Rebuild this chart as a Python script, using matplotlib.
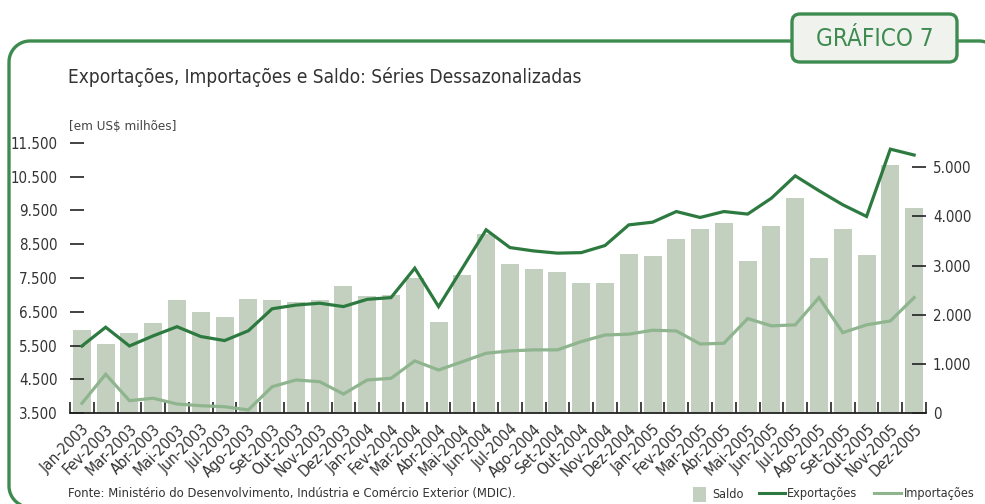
import matplotlib
matplotlib.use("Agg")
import matplotlib.pyplot as plt
import matplotlib.font_manager as fm
import numpy as np
from matplotlib.patches import FancyBboxPatch, Rectangle, Polygon
from matplotlib.lines import Line2D

months = ["Jan", "Fev", "Mar", "Abr", "Mai", "Jun", "Jul", "Ago", "Set", "Out", "Nov", "Dez"]
categories = [f"{m}-{y}" for y in (2003, 2004, 2005) for m in months]

exportacoes = [5490, 6045, 5490, 5790, 6060, 5770, 5650, 5940, 6590, 6700,
               6755, 6655, 6870, 6920, 7790, 6655, 7790, 8925, 8400, 8300,
               8235, 8250, 8460, 9070, 9150, 9465, 9290, 9465, 9390, 9860,
               10520, 10080, 9665, 9320, 11310, 11135]
importacoes = [3795, 4655, 3875, 3945, 3775, 3725, 3695, 3600, 4285, 4485,
               4435, 4070, 4485, 4535, 5050, 4780, 5025, 5275, 5345, 5375,
               5375, 5620, 5815, 5840, 5955, 5935, 5550, 5570, 6300, 6085,
               6115, 6920, 5885, 6115, 6230, 6920]
saldo = [1690, 1405, 1630, 1830, 2300, 2055, 1955, 2320, 2300, 2265,
         2300, 2580, 2380, 2400, 2750, 1850, 2805, 3650, 3040, 2925,
         2865, 2645, 2645, 3230, 3190, 3535, 3740, 3860, 3090, 3800,
         4385, 3150, 3740, 3210, 5055, 4165]

left_ticks = [3500, 4500, 5500, 6500, 7500, 8500, 9500, 10500, 11500]
right_ticks = [0, 1000, 2000, 3000, 4000, 5000]


def fmt(v):
    return f"{v:,}".replace(",", ".")


# pick a condensed sans font if one is installed
def pick_font():
    fl = fm.fontManager.ttflist
    for f in fl:
        if f.name == "Liberation Sans Narrow" and f.style == "normal" and f.weight in (400, "normal"):
            return fm.FontProperties(fname=f.fname)
    for f in fl:
        if f.name == "DejaVu Sans" and str(f.stretch) in ("condensed", "semi-condensed") \
                and f.style == "normal" and f.weight in (400, "normal", "book"):
            return fm.FontProperties(fname=f.fname)
    for f in fl:
        if ("Condensed" in f.name or "Narrow" in f.name) and f.style == "normal":
            return fm.FontProperties(fname=f.fname)
    return fm.FontProperties(family="DejaVu Sans")


FP = pick_font()

W, H = 985, 504
fig = plt.figure(figsize=(W / 100, H / 100), dpi=100)
fig.patch.set_facecolor("white")
renderer = fig.canvas.get_renderer()

GREEN = "#3e8b50"
DARK = "#2c7a3f"
LIGHT = "#8fb58f"
BAR = "#c3cfbf"
TXT = "#333333"


def size_for(s, target_w):
    t = fig.text(0, 0, s, fontproperties=FP, fontsize=10)
    w = t.get_window_extent(renderer).width
    t.remove()
    return 10 * target_w / w


def ftext(axes, x, y, s, target_w=None, size=None, **kw):
    sz = size if size is not None else size_for(s, target_w)
    return axes.text(x, y, s, fontproperties=FP, fontsize=sz, **kw)


# overlay for frame & annotations (pixel coords, y downwards)
ov = fig.add_axes([0, 0, 1, 1])
ov.set_xlim(0, W)
ov.set_ylim(H, 0)
ov.axis("off")


def rounded_frame(xl, yt, xr, yb, r):
    t = np.linspace(0, np.pi / 2, 20)
    pts = []
    pts += list(zip(xl + r - r * np.cos(t), yt + r - r * np.sin(t)))
    pts += list(zip(xr - r + r * np.sin(t), yt + r - r * np.cos(t)))
    pts += list(zip(xr - r + r * np.cos(t), yb - r + r * np.sin(t)))
    pts += list(zip(xl + r - r * np.sin(t), yb - r + r * np.cos(t)))
    return np.array(pts)


ov.add_patch(Polygon(rounded_frame(9, 41, 1000, 507, 21), closed=True, fill=False,
                     edgecolor=GREEN, linewidth=2.4, joinstyle="round"))
box = FancyBboxPatch((792, 14), 165, 48, boxstyle="round,pad=0,rounding_size=8",
                     facecolor="#f0f2ee", edgecolor=GREEN, linewidth=2.4, zorder=3)
ov.add_patch(box)
ftext(ov, 874.5, 39, "GRÁFICO 7", 118, color=GREEN, ha="center", va="center", zorder=4)
ftext(ov, 68, 77, "Exportações, Importações e Saldo: Séries Dessazonalizadas", 514,
      color=TXT, ha="left", va="center")
ftext(ov, 69, 127, "[em US$ milhões]", 108, color="#444444", ha="left", va="center")
ftext(ov, 68, 494, "Fonte: Ministério do Desenvolvimento, Indústria e Comércio Exterior (MDIC).", 447,
      color=TXT, ha="left", va="center")
# legend
lsz = size_for("Exportações", 70)
ov.add_patch(Rectangle((693, 487), 13, 15, facecolor=BAR, edgecolor="none"))
ftext(ov, 712, 494, "Saldo", size=lsz, color=TXT, ha="left", va="center")
ov.add_line(Line2D([759, 785], [493, 493], color=DARK, linewidth=2.2))
ftext(ov, 787, 494, "Exportações", size=lsz, color=TXT, ha="left", va="center")
ov.add_line(Line2D([874, 901], [493, 493], color=LIGHT, linewidth=2.2))
ftext(ov, 904, 494, "Importações", size=lsz, color=TXT, ha="left", va="center")

# main axes
x0, x1, ybot, ytop = 70, 926, 413.3, 142.7
ax = fig.add_axes([x0 / W, 1 - ybot / H, (x1 - x0) / W, (ybot - ytop) / H])
ax.set_facecolor("none")
ax2 = ax.twinx()

x = np.arange(len(categories))
ax.set_zorder(2)
ax2.set_zorder(1)
ax2.bar(x, saldo, width=0.76, color=BAR, edgecolor="none")
ax.plot(x, importacoes, color=LIGHT, linewidth=2.3, solid_joinstyle="miter")
ax.plot(x, exportacoes, color=DARK, linewidth=2.3, solid_joinstyle="miter")

ax.set_xlim(-0.5, len(categories) - 0.5)
ax.set_ylim(3500, 11500)
ax2.set_ylim(0, 5500)

for a in (ax, ax2):
    for s in ("top", "left", "right"):
        a.spines[s].set_visible(False)
ax2.spines["bottom"].set_visible(False)
ax.spines["bottom"].set_color("#222222")
ax.spines["bottom"].set_linewidth(1.3)

ysz = size_for("11.500", 47.5)
xsz = size_for("Jan-2003", 62)

ax.set_yticks(left_ticks)
ax.set_yticklabels([fmt(v) for v in left_ticks], fontproperties=FP, fontsize=ysz)
ax.tick_params(axis="y", direction="in", length=10, width=1.2, color="#222222",
               labelcolor=TXT, pad=9)
ax2.set_yticks(right_ticks)
ax2.set_yticklabels([fmt(v) for v in right_ticks], fontproperties=FP, fontsize=ysz)
ax2.tick_params(axis="y", direction="in", length=10, width=1.2, color="#222222",
                labelcolor=TXT, pad=5)

ax.set_xticks(x)
ax.set_xticklabels(categories, rotation=45, ha="right", rotation_mode="anchor",
                   fontproperties=FP, fontsize=xsz)
ax.tick_params(axis="x", length=0, labelcolor=TXT, pad=6)
ax.set_xticks(np.arange(-0.5, len(categories), 1.0), minor=True)
ax.tick_params(axis="x", which="minor", direction="in", length=8, width=1.2, color="#222222")

fig.savefig("out.png", dpi=100, facecolor="white")
